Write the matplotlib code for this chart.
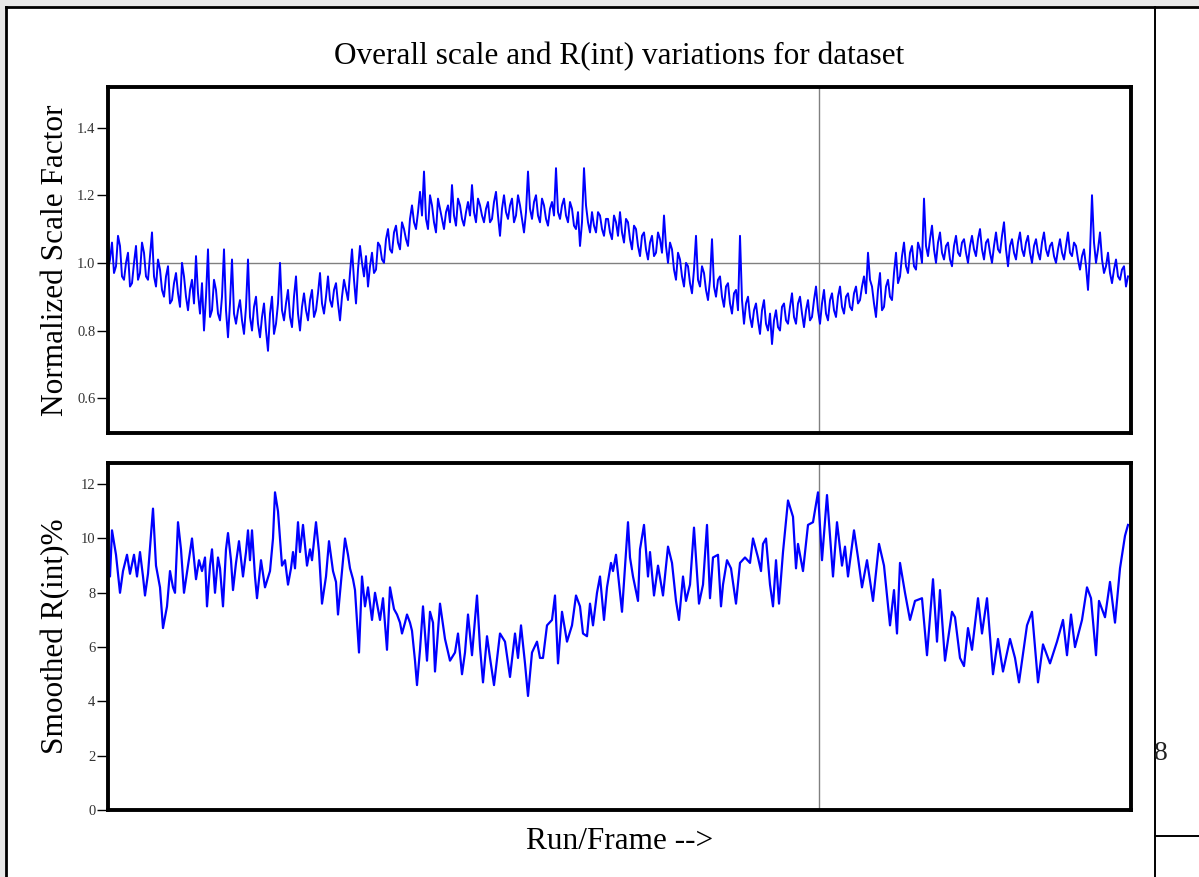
import numpy as np
import matplotlib
matplotlib.use("Agg")
import matplotlib.pyplot as plt
from matplotlib.lines import Line2D
from matplotlib.patches import Rectangle

plt.rcParams['font.family'] = ['Liberation Serif', 'DejaVu Serif']

# Normalized scale factor, one value every 2 frames
scale_step = 2
scale_values = [
    # frames 0-258
    0.98, 1.01, 1.06, 0.97, 0.99, 1.08, 1.05, 0.96, 0.95, 1.00, 1.03, 0.93, 0.94,
    1.00, 1.05, 0.95, 0.97, 1.06, 1.03, 0.96, 0.95, 1.02, 1.09, 0.96, 0.93, 1.01,
    0.98, 0.92, 0.90, 0.96, 0.99, 0.88, 0.89, 0.94, 0.97, 0.91, 0.87, 1.00, 0.96,
    0.90, 0.86, 0.92, 0.95, 0.88, 1.02, 0.91, 0.85, 0.94, 0.80, 0.90, 1.04, 0.84,
    0.86, 0.95, 0.92, 0.85, 0.83, 0.90, 1.04, 0.86, 0.78, 0.88, 1.01, 0.85, 0.82,
    0.86, 0.89, 0.83, 0.79, 0.87, 1.01, 0.84, 0.80, 0.87, 0.90, 0.82, 0.78, 0.84,
    0.88, 0.80, 0.74, 0.85, 0.90, 0.79, 0.82, 0.88, 1.00, 0.86, 0.83, 0.88, 0.92,
    0.84, 0.81, 0.90, 0.96, 0.85, 0.80, 0.87, 0.91, 0.86, 0.83, 0.89, 0.92, 0.84,
    0.86, 0.91, 0.97, 0.88, 0.85, 0.90, 0.96, 0.89, 0.87, 0.92, 0.94, 0.88, 0.83,
    0.90, 0.95, 0.92, 0.89, 0.97, 1.04, 0.95, 0.88, 0.98, 1.05, 1.00, 0.96, 1.02,
    # frames 260-510
    0.93, 0.99, 1.03, 0.97, 0.98, 1.06, 1.05, 1.01, 1.00, 1.07, 1.10, 1.04, 1.03,
    1.09, 1.11, 1.06, 1.04, 1.12, 1.10, 1.07, 1.05, 1.13, 1.17, 1.12, 1.10, 1.15,
    1.21, 1.14, 1.27, 1.13, 1.10, 1.20, 1.17, 1.12, 1.09, 1.19, 1.16, 1.13, 1.10,
    1.15, 1.17, 1.12, 1.23, 1.14, 1.11, 1.19, 1.17, 1.13, 1.11, 1.15, 1.18, 1.14,
    1.23, 1.15, 1.12, 1.19, 1.17, 1.14, 1.12, 1.16, 1.18, 1.12, 1.13, 1.18, 1.21,
    1.14, 1.08, 1.16, 1.20, 1.15, 1.13, 1.17, 1.19, 1.12, 1.14, 1.20, 1.17, 1.13,
    1.09, 1.15, 1.27, 1.16, 1.13, 1.18, 1.20, 1.14, 1.12, 1.19, 1.17, 1.13, 1.11,
    1.16, 1.18, 1.14, 1.28, 1.15, 1.13, 1.17, 1.19, 1.14, 1.12, 1.18, 1.16, 1.11,
    1.10, 1.15, 1.05, 1.12, 1.28, 1.17, 1.12, 1.09, 1.15, 1.11, 1.09, 1.15, 1.14,
    1.10, 1.08, 1.13, 1.13, 1.09, 1.07, 1.14, 1.12, 1.08,
    # frames 512-766
    1.15, 1.09, 1.06, 1.13, 1.12, 1.07, 1.04, 1.11, 1.10, 1.05, 1.02, 1.08, 1.09,
    1.04, 1.01, 1.06, 1.08, 1.02, 1.03, 1.09, 1.07, 1.03, 1.14, 1.05, 1.00, 1.06,
    1.04, 0.98, 0.95, 1.03, 1.01, 0.96, 0.93, 1.00, 0.99, 0.94, 0.91, 0.98, 1.08,
    0.95, 0.93, 0.99, 0.97, 0.92, 0.89, 0.95, 1.07, 0.93, 0.90, 0.95, 0.96, 0.90,
    0.87, 0.93, 0.94, 0.88, 0.85, 0.91, 0.92, 0.86, 1.08, 0.89, 0.82, 0.88, 0.90,
    0.84, 0.81, 0.86, 0.88, 0.83, 0.79, 0.86, 0.89, 0.82, 0.80, 0.85, 0.76, 0.83,
    0.86, 0.81, 0.80, 0.87, 0.88, 0.83, 0.82, 0.87, 0.91, 0.84, 0.82, 0.88, 0.90,
    0.85, 0.81, 0.86, 0.89, 0.83, 0.84, 0.89, 0.93, 0.86, 0.82, 0.88, 0.92, 0.85,
    0.83, 0.89, 0.91, 0.86, 0.84, 0.90, 0.93, 0.87, 0.85, 0.90, 0.91, 0.87, 0.86,
    0.91, 0.93, 0.88, 0.89, 0.93, 0.96, 0.91, 1.03, 0.95, 0.93, 0.88,
    # frames 768-1020
    0.84, 0.92, 0.97, 0.86, 0.87, 0.93, 0.95, 0.90, 0.89, 0.97, 1.03, 0.94, 0.96,
    1.02, 1.06, 0.99, 0.97, 1.03, 1.05, 0.99, 0.98, 1.06, 1.04, 1.00, 1.19, 1.05,
    1.02, 1.07, 1.11, 1.04, 1.00, 1.06, 1.09, 1.03, 1.01, 1.05, 1.06, 1.01, 0.99,
    1.05, 1.08, 1.03, 1.02, 1.06, 1.07, 1.03, 1.00, 1.05, 1.08, 1.04, 1.02, 1.07,
    1.10, 1.04, 1.01, 1.06, 1.07, 1.03, 1.00, 1.05, 1.09, 1.04, 1.03, 1.08, 1.12,
    1.04, 0.99, 1.05, 1.07, 1.03, 1.01, 1.06, 1.09, 1.04, 1.02, 1.06, 1.08, 1.03,
    1.00, 1.05, 1.07, 1.03, 1.01, 1.06, 1.09, 1.04, 1.02, 1.05, 1.06, 1.02, 1.00,
    1.04, 1.07, 1.03, 1.01, 1.05, 1.09, 1.03, 1.02, 1.06, 1.05, 1.01, 0.98, 1.02,
    1.04, 0.99, 0.92, 1.03, 1.20, 1.06, 1.00, 1.04, 1.09, 1.01, 0.97, 0.99, 1.03,
    0.97, 0.94, 0.98, 1.01, 0.96, 0.95, 0.98, 0.99, 0.93, 0.96,
]
scale_frames = np.arange(len(scale_values)) * scale_step

# Smoothed R(int)% (frame, value)
rint_frames = [
    0, 2, 4, 8, 12, 15, 19, 22, 26, 29, 32, 35, 37, 40, 45, 48, 52, 55, 59, 62,
    65, 67, 70, 73, 76, 80, 84, 88, 91, 94, 97, 99, 102, 104, 107, 110, 112, 115,
    118, 120, 123, 125, 128, 131, 135, 138, 140, 142, 144, 147, 149, 153, 157,
    162, 165, 167, 170, 174, 177, 180, 183, 185, 187, 190, 192, 195, 199, 202,
    204, 208, 211, 214, 218, 221, 225, 228, 230, 234, 237, 240, 242, 245, 247,
    251, 254, 257, 260, 264, 267, 270, 272, 275, 279, 282, 286, 289, 292, 294,
    297, 299, 302, 304, 307, 309, 312, 315, 319, 322, 325, 327, 332, 337, 342,
    347, 350, 354, 357, 360, 364, 369, 372, 375, 379, 382, 386, 392, 397, 402,
    407, 410, 413, 417, 420, 424, 429, 432, 435, 439, 444, 447, 450, 454, 459,
    464, 468, 472, 475, 479, 482, 485, 489, 492, 496, 499, 503, 505, 508, 514,
    520, 522, 525, 530, 532, 536, 540, 542, 546, 550, 555, 560, 564, 568, 571,
    575, 578, 582, 586, 591, 595, 599, 602, 605, 610, 613, 615, 619, 623, 628,
    632, 637, 642, 645, 650, 653, 655, 658, 662, 665, 668, 671, 675, 680, 685,
    688, 690, 695, 700, 705, 710, 714, 719, 725, 729, 734, 737, 740, 746, 750,
    754, 759, 765, 771, 776, 782, 786, 789, 792, 797, 802, 807, 814, 819, 825,
    829, 832, 837, 844, 847, 852, 856, 860, 864, 870, 874, 879, 885, 890, 895,
    902, 907, 911, 919, 924, 930, 935, 942, 949, 955, 959, 963, 967, 974, 979,
    983, 988, 991, 997, 1002, 1007, 1012, 1017, 1020,
]
rint_values = [
    8.7, 8.6, 10.3, 9.4, 8.0, 8.8, 9.4, 8.7, 9.4, 8.6, 9.5, 8.6, 7.9, 8.7, 11.1,
    9.0, 8.2, 6.7, 7.5, 8.8, 8.2, 8.0, 10.6, 9.6, 8.0, 9.0, 10.0, 8.5, 9.2, 8.8,
    9.3, 7.5, 9.0, 9.6, 8.0, 9.3, 8.9, 7.5, 9.6, 10.2, 9.2, 8.1, 9.1, 9.9, 8.6,
    9.5, 10.3, 9.2, 10.3, 8.6, 7.8, 9.2, 8.2, 8.8, 10.0, 11.7, 11.0, 9.0, 9.2,
    8.3, 8.9, 9.5, 8.9, 10.6, 9.5, 10.5, 9.0, 9.6, 9.2, 10.6, 9.5, 7.6, 8.6, 9.9,
    8.8, 8.4, 7.2, 8.8, 10.0, 9.4, 8.9, 8.5, 8.1, 5.8, 8.6, 7.5, 8.2, 7.0, 8.0,
    7.4, 7.0, 7.8, 5.9, 8.2, 7.4, 7.2, 6.9, 6.5, 6.9, 7.2, 6.9, 6.6, 5.5, 4.6,
    5.9, 7.5, 5.5, 7.3, 6.9, 5.1, 7.6, 6.3, 5.5, 5.8, 6.5, 5.0, 5.8, 7.2, 5.7,
    7.9, 6.0, 4.7, 6.4, 5.6, 4.6, 6.5, 6.2, 4.9, 6.5, 5.6, 6.8, 5.4, 4.2, 5.8,
    6.2, 5.6, 5.6, 6.8, 7.0, 7.9, 5.4, 7.3, 6.2, 6.8, 7.9, 7.5, 6.5, 6.4, 7.6,
    6.8, 8.0, 8.6, 7.0, 8.2, 9.1, 8.8, 9.4, 7.3, 10.6, 9.3, 8.6, 7.7, 9.6, 10.5,
    8.6, 9.5, 7.9, 9.0, 7.9, 9.7, 9.1, 7.7, 7.0, 8.6, 7.7, 8.3, 10.4, 7.6, 8.3,
    10.5, 7.8, 9.3, 9.4, 7.5, 8.3, 9.2, 8.9, 7.6, 9.1, 9.3, 9.1, 10.0, 9.3, 8.8,
    9.8, 10.0, 8.3, 7.5, 9.2, 7.6, 9.5, 11.4, 10.8, 8.9, 9.8, 8.8, 10.5, 10.6,
    11.7, 9.2, 11.6, 8.6, 10.6, 9.0, 9.7, 8.6, 10.3, 9.3, 8.2, 9.2, 7.7, 9.8,
    9.0, 6.8, 8.1, 6.5, 9.1, 8.0, 7.0, 7.7, 7.8, 5.7, 8.5, 6.2, 8.1, 5.5, 7.3,
    7.1, 5.6, 5.3, 6.7, 5.9, 7.8, 6.5, 7.8, 5.0, 6.3, 5.1, 6.3, 5.6, 4.7, 6.8,
    7.3, 4.7, 6.1, 5.4, 6.2, 7.0, 5.7, 7.2, 6.0, 7.0, 8.2, 7.8, 5.7, 7.7, 7.1,
    8.4, 6.9, 8.9, 10.1, 10.5,
]

frame_max = 1023
marker_frame = 711
scale_ticks = [0.6, 0.8, 1.0, 1.2, 1.4]
rint_ticks = [0, 2, 4, 6, 8, 10, 12]

W, H = 1199, 877
fig = plt.figure(figsize=(W / 100, H / 100), dpi=100)

# page/table frame around the chart
fig.patches.append(Rectangle((0, 1 - 6 / H), 1, 6 / H, transform=fig.transFigure,
                             color='#e8e8e8', zorder=0))
fig.patches.append(Rectangle((0, 0), 5 / W, 1, transform=fig.transFigure,
                             color='#e8e8e8', zorder=0))
for xs, ys, lw in [([6 / W, 1], [1 - 7 / H, 1 - 7 / H], 2.0),
                   ([6 / W, 6 / W], [0, 1 - 7 / H], 2.0),
                   ([1155 / W, 1155 / W], [0, 1 - 7 / H], 1.4),
                   ([1155 / W, 1], [1 - 836 / H, 1 - 836 / H], 1.4)]:
    fig.add_artist(Line2D(xs, ys, transform=fig.transFigure, color='black', lw=lw))
fig.text(1154 / W, 1 - 754 / H, '8', fontsize=20, ha='left', va='center', color='#222222')

ax1 = fig.add_axes([108 / W, 1 - 433 / H, 1023 / W, 346 / H])
ax2 = fig.add_axes([108 / W, 1 - 810 / H, 1023 / W, 347 / H])

ax1.plot(scale_frames, scale_values, color='#0000ff', lw=1.4, zorder=3)
ax1.axhline(1.0, color='#808080', lw=1, zorder=2)
ax1.set_ylim(0.497, 1.52)
ax1.set_yticks(scale_ticks)
ax1.set_yticklabels([f'{t:.1f}' for t in scale_ticks])
ax1.set_ylabel('Normalized Scale Factor', fontsize=22.5)

ax2.plot(rint_frames, rint_values, color='#0000ff', lw=1.6, zorder=3)
ax2.set_ylim(0, 12.78)
ax2.set_yticks(rint_ticks)
ax2.set_ylabel('Smoothed R(int)%', fontsize=22.5)
ax2.set_xlabel('Run/Frame -->', fontsize=22.5)
ax2.xaxis.set_label_coords(0.5, -0.05)

for ax in (ax1, ax2):
    ax.set_xlim(0, frame_max)
    ax.set_xticks([])
    ax.axvline(marker_frame, color='#808080', lw=1, zorder=2)
    ax.tick_params(axis='y', direction='out', length=8, width=1, pad=1,
                   labelsize=10.5, labelcolor='#333333')
    for sp in ax.spines.values():
        sp.set_linewidth(2.8)
        sp.set_color('black')
        sp.set_zorder(4)
    ax.yaxis.set_label_coords(-0.037, 0.5)

fig.text(619 / W, 1 - 57 / H, 'Overall scale and R(int) variations for dataset',
         fontsize=22.5, ha='center', va='center')

fig.savefig('out.png', dpi=100)
